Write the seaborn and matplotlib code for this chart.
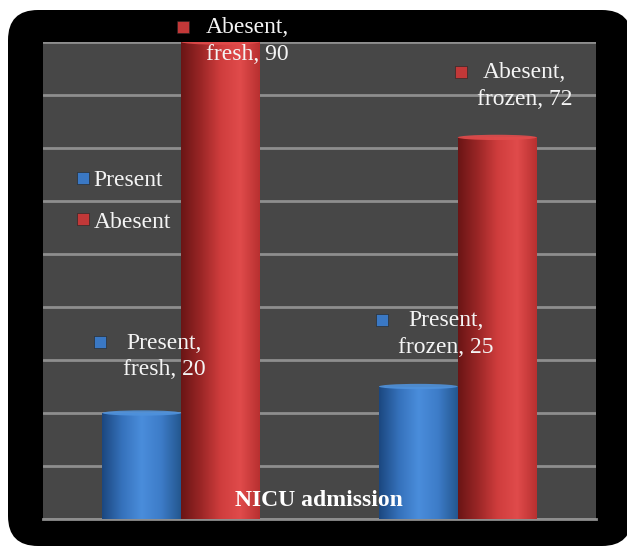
import numpy as np
import pandas as pd
import matplotlib
matplotlib.use("Agg")
import matplotlib.pyplot as plt
import seaborn as sns
from matplotlib.colors import LinearSegmentedColormap
from matplotlib.patches import FancyBboxPatch, Ellipse
from matplotlib.lines import Line2D
from matplotlib.transforms import ScaledTranslation

# ---- data ----
categories = ["fresh", "frozen"]
series = ["Present", "Abesent"]
present = [20, 25]
abesent = [90, 72]
xlabel = "NICU admission"
yticks = list(range(0, 91, 10))

# label offsets (data units) relative to bar centre / bar top
label_dx = {("Present", "fresh"): 0.08, ("Present", "frozen"): 0.10,
            ("Abesent", "fresh"): 0.095, ("Abesent", "frozen"): 0.10}
label_dy = {("Present", "fresh"): 10.7, ("Present", "frozen"): 9.9,
            ("Abesent", "fresh"): 0.2, ("Abesent", "frozen"): 9.7}

df = pd.DataFrame({
    "category": categories * 2,
    "series": [series[0]] * len(categories) + [series[1]] * len(categories),
    "value": present + abesent,
})

sns.set_theme(style="white")
plt.rcParams["font.family"] = ["Liberation Serif", "DejaVu Serif"]

fig = plt.figure(figsize=(6.27, 5.47), dpi=100)
fig.patch.set_facecolor("white")
bg = FancyBboxPatch((0.08, 0.01), 6.24, 5.36,
                    boxstyle="round,pad=0,rounding_size=0.3",
                    transform=fig.dpi_scale_trans, facecolor="black",
                    edgecolor="none", zorder=-10)
fig.patches.append(bg)

ax = fig.add_axes([43 / 627, 28 / 547, 553 / 627, 477 / 547])
ax.set_zorder(5)
ax.set_facecolor("#474747")

base_colors = {"Present": "#3a78c4", "Abesent": "#c23838"}
sns.barplot(data=df, x="category", y="value", hue="series",
            hue_order=series, order=categories,
            palette=[base_colors[s] for s in series], width=0.57,
            saturation=1, ax=ax, legend=False, zorder=3, linewidth=0,
            edgecolor="none")

cmaps = {
    "Present": LinearSegmentedColormap.from_list(
        "b", ["#1b477f", "#3571bb", "#4a8ddb", "#3d7cc8", "#24578f"]),
    "Abesent": LinearSegmentedColormap.from_list(
        "r", ["#6a1515", "#9a2626", "#cf3d3d", "#e04b4b", "#b83030"]),
}
cap_colors = {"Present": "#4f92dc", "Abesent": "#e24c4c"}

grad = np.linspace(0, 1, 256).reshape(1, -1)
bars = [p for p in ax.patches if p.get_height() > 0]
for bar in bars:
    fc = bar.get_facecolor()
    s = "Present" if fc[2] > fc[0] else "Abesent"
    x0, w, h = bar.get_x(), bar.get_width(), bar.get_height()
    im = ax.imshow(grad, extent=[x0, x0 + w, 0, h], aspect="auto",
                   cmap=cmaps[s], zorder=4, origin="lower")
    im.set_clip_path(bar)
    cap = Ellipse((x0 + w / 2, h), w, 1.0, facecolor=cap_colors[s],
                  edgecolor="none", zorder=5, alpha=0.9)
    ax.add_patch(cap)

ax.set_xlim(-0.5, 1.5)
ax.set_ylim(0, 90)
ax.set_yticks(yticks)
ax.yaxis.grid(True, color="#8e8e8e", lw=2)
ax.set_axisbelow(True)
ax.tick_params(left=False, bottom=False, labelleft=False, labelbottom=False)
ax.set_xlabel("")
ax.set_ylabel("")
for sp in ax.spines.values():
    sp.set_visible(False)
ax.spines["bottom"].set_visible(True)
ax.spines["bottom"].set_color("#8e8e8e")
ax.spines["bottom"].set_linewidth(2)

# data labels
for i, s in enumerate(series):
    vals = present if s == "Present" else abesent
    offset = (-0.5 + 0.5 * (2 * i + 1) / 2) * 0.57
    for j, c in enumerate(categories):
        bx = j + offset
        tx = bx + label_dx[(s, c)]
        ty = vals[j] + label_dy[(s, c)]
        ax.text(tx, ty, f"{s},\n{c}, {vals[j]}", ha="center", va="center",
                multialignment="center", color="#f4f4f4", fontsize=17,
                linespacing=1.32, zorder=7, clip_on=False)
        tr = ax.transData + ScaledTranslation(-0.64, 0.14, fig.dpi_scale_trans)
        ax.plot([tx], [ty], marker="s", markersize=8.5, color=base_colors[s],
                markeredgecolor="#222222", markeredgewidth=0.4,
                transform=tr, zorder=7, clip_on=False)

# x label inside the plot
ax.text(0.499, 0.038, xlabel, transform=ax.transAxes, ha="center",
        va="center", color="white", fontsize=17, fontweight="bold", zorder=8)

handles = [Line2D([], [], marker="s", linestyle="none", markersize=8.5,
                  color=base_colors[s], markeredgecolor="#222222",
                  markeredgewidth=0.4) for s in series]
leg = ax.legend(handles, series, loc="upper left",
                bbox_to_anchor=(0.062, 0.733), frameon=False, fontsize=17,
                handlelength=0.5, handletextpad=0.2, labelspacing=0.86,
                borderpad=0, borderaxespad=0)
for t in leg.get_texts():
    t.set_color("#f4f4f4")
leg.set_zorder(9)

fig.savefig("out.png", dpi=100, facecolor="white")
